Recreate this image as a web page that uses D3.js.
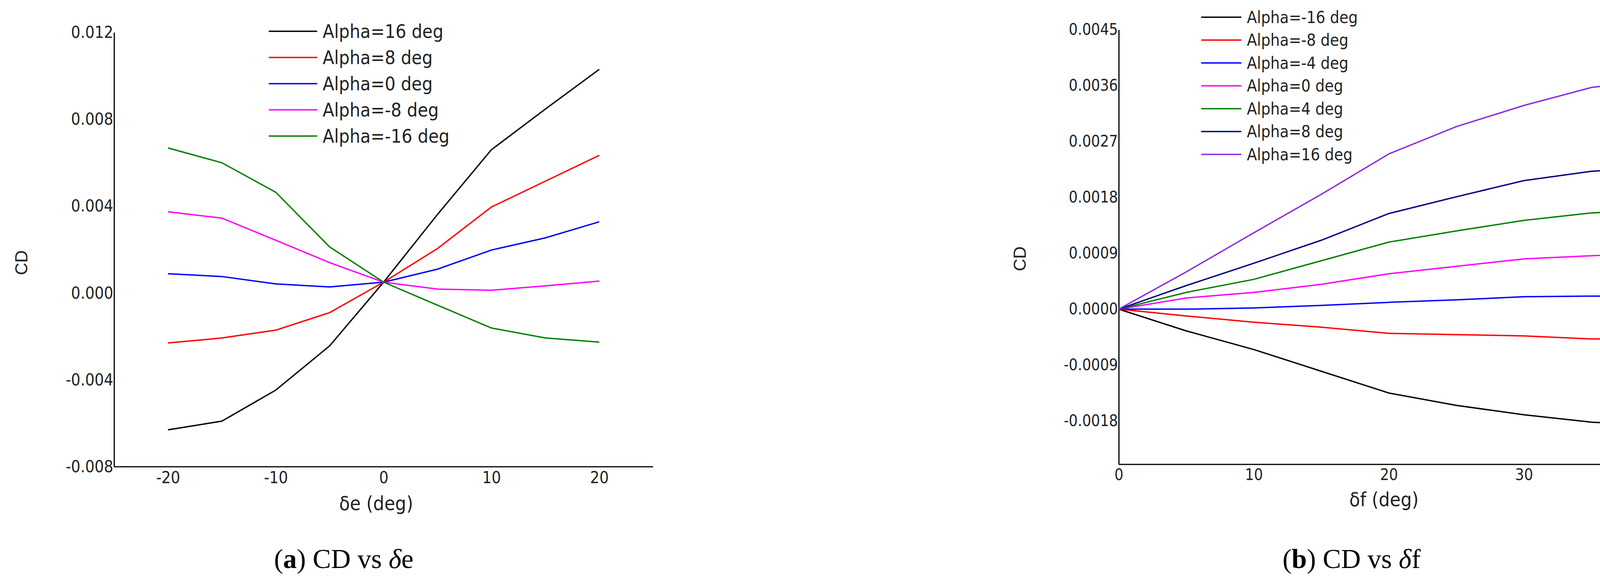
<!DOCTYPE html>
<html><head><meta charset="utf-8">
<script src="https://cdn.jsdelivr.net/npm/d3@7"></script>
<style>html,body{margin:0;background:#fff;overflow:hidden}svg{display:block}</style>
</head><body>
<svg id="chart" width="4292" height="1476"></svg>
<script>
// panel (a): CD vs delta e
const xE = [-20, -15, -10, -5, 0, 5, 10, 15, 20];
const seriesA = [
  {name: "Alpha=16 deg", color: "#000000", values: [-0.0063, -0.0059, -0.00447, -0.00243, 0.0005, 0.00362, 0.0066, 0.00847, 0.0103]},
  {name: "Alpha=8 deg", color: "#ff0000", values: [-0.0023, -0.00207, -0.00171, -0.0009, 0.0005, 0.00205, 0.00396, 0.00515, 0.00634]},
  {name: "Alpha=0 deg", color: "#0000ff", values: [0.00089, 0.00076, 0.00042, 0.00028, 0.0005, 0.0011, 0.00198, 0.00254, 0.00328]},
  {name: "Alpha=-8 deg", color: "#ff00ff", values: [0.00374, 0.00345, 0.00243, 0.0014, 0.0005, 0.00018, 0.00013, 0.00033, 0.00055]},
  {name: "Alpha=-16 deg", color: "#008000", values: [0.00668, 0.006, 0.00464, 0.00212, 0.0005, -0.00056, -0.00161, -0.00207, -0.00226]}
];
const ticksAx = [-20, -10, 0, 10, 20];
const ticksAy = [-0.008, -0.004, 0, 0.004, 0.008, 0.012];

// panel (b): CD vs delta f
const xF = [0, 5, 10, 15, 20, 25, 30, 35, 40];
const seriesB = [
  {name: "Alpha=-16 deg", color: "#000000", values: [0, -0.00035, -0.00065, -0.001, -0.00135, -0.00155, -0.0017, -0.00182, -0.00187]},
  {name: "Alpha=-8 deg", color: "#ff0000", values: [0, -0.00011, -0.00021, -0.00029, -0.00039, -0.00041, -0.00043, -0.00048, -0.00048]},
  {name: "Alpha=-4 deg", color: "#0000ff", values: [0, 0, 0.00002, 0.00006, 0.00011, 0.00015, 0.0002, 0.00021, 0.00021]},
  {name: "Alpha=0 deg", color: "#ff00ff", values: [0, 0.00018, 0.00027, 0.0004, 0.00057, 0.00069, 0.00081, 0.00086, 0.00091]},
  {name: "Alpha=4 deg", color: "#008000", values: [0, 0.00027, 0.00048, 0.00078, 0.00108, 0.00126, 0.00143, 0.00155, 0.0016]},
  {name: "Alpha=8 deg", color: "#000080", values: [0, 0.00038, 0.00074, 0.00111, 0.00154, 0.00181, 0.00207, 0.00222, 0.00229]},
  {name: "Alpha=16 deg", color: "#8a2be2", values: [0, 0.0006, 0.00123, 0.00185, 0.0025, 0.00294, 0.00328, 0.00357, 0.0037]}
];
const ticksBx = [0, 10, 20, 30, 40];
const ticksBy = [-0.0018, -0.0009, 0, 0.0009, 0.0018, 0.0027, 0.0036, 0.0045];

const svg = d3.select("#chart");
const narrow = "'DejaVu Sans Condensed', 'Liberation Sans Narrow', 'Liberation Sans', sans-serif";

function panel(o) {
  const x = d3.scaleLinear().domain(o.xDomain).range([o.left, o.right]);
  const y = d3.scaleLinear().domain(o.yDomain).range([o.bottom, o.top]);
  const g = svg.append("g");
  const yf = d3.format(o.yFmt);

  const ax = g.append("g").attr("transform", "translate(0," + o.bottom + ")")
    .call(d3.axisBottom(x).tickValues(o.xTicks).tickSize(0).tickPadding(12).tickFormat(d => String(d)));
  const ay = g.append("g").attr("transform", "translate(" + o.left + ",0)")
    .call(d3.axisLeft(y).tickValues(o.yTicks).tickSize(0).tickPadding(2).tickFormat(d => yf(d).replace("−", "-")));
  [ax, ay].forEach(a => {
    a.select(".domain").attr("stroke", "#000").attr("stroke-width", 3);
    a.selectAll("text").attr("font-family", narrow).attr("font-size", o.fs).attr("fill", "#222");
  });
  ax.select(".domain").attr("d", "M" + o.left + ",0H" + o.axisEnd);
  ax.selectAll("text").attr("dy", "0.71em");

  const line = d3.line().x((d, i) => x(o.xs[i])).y(d => y(d));
  g.selectAll("path.s").data(o.series).join("path").attr("class", "s")
    .attr("d", d => line(d.values)).attr("fill", "none")
    .attr("stroke", d => d.color).attr("stroke-width", 3.5);

  const lg = g.selectAll("g.lg").data(o.series).join("g").attr("class", "lg")
    .attr("transform", (d, i) => "translate(" + o.lx + "," + (o.ly + i * o.lstep) + ")");
  lg.append("line").attr("x1", 0).attr("x2", o.llen).attr("stroke", d => d.color).attr("stroke-width", 3.5);
  lg.append("text").attr("x", o.llen + 14).attr("dy", "0.35em").text(d => d.name)
    .attr("font-family", narrow).attr("font-size", o.lfs).attr("fill", "#222");

  g.append("text").attr("transform", "translate(" + o.cdx + "," + o.cdy + ") rotate(-90)")
    .attr("text-anchor", "middle").attr("dy", "0.35em").text("CD")
    .attr("font-family", "'Liberation Sans', Arial, sans-serif").attr("font-size", 44).attr("fill", "#222");
  g.append("text").attr("x", o.tx).attr("y", o.ty).attr("text-anchor", "middle").attr("dy", "0.35em")
    .text(o.title).attr("font-family", narrow).attr("font-size", 50).attr("fill", "#222");

  const cap = g.append("text").attr("x", o.capx).attr("y", 1428).attr("text-anchor", "middle").attr("dy", "0.35em")
    .attr("font-family", "'Liberation Serif', 'DejaVu Serif', serif").attr("font-size", 70).attr("fill", "#000");
  cap.append("tspan").text("(");
  cap.append("tspan").attr("font-weight", "bold").text(o.capLetter);
  cap.append("tspan").text(") CD vs ");
  cap.append("tspan").attr("font-style", "italic").text("δ");
  cap.append("tspan").text(o.capVar);
}

panel({
  xs: xE, series: seriesA, xDomain: [-25, 25], yDomain: [-0.008, 0.012],
  left: 292, right: 1672, axisEnd: 1672, top: 83, bottom: 1194,
  xTicks: ticksAx, yTicks: ticksAy, yFmt: ".3f", fs: 42,
  lx: 688, ly: 80, lstep: 67, llen: 124, lfs: 48,
  cdx: 55, cdy: 672, tx: 963, ty: 1287, title: "δe (deg)",
  capx: 880, capLetter: "a", capVar: "e"
});

panel({
  xs: xF, series: seriesB, xDomain: [0, 40], yDomain: [-0.0025, 0.0045],
  left: 2864, right: 4247, axisEnd: 4247, top: 76, bottom: 1188,
  xTicks: ticksBx, yTicks: ticksBy, yFmt: ".4f", fs: 40,
  lx: 3075, ly: 44, lstep: 58.5, llen: 103, lfs: 42,
  cdx: 2611, cdy: 662, tx: 3543, ty: 1277, title: "δf (deg)",
  capx: 3460, capLetter: "b", capVar: "f"
});
</script>
</body></html>
